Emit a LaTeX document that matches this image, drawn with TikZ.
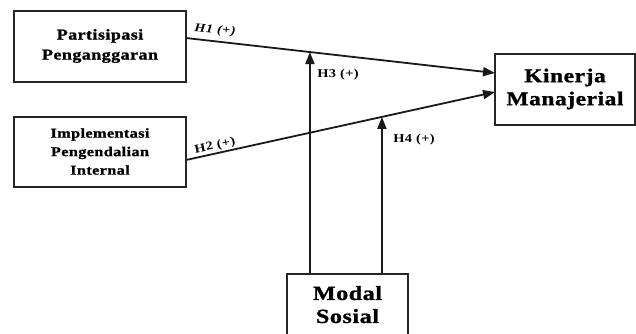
\documentclass[tikz,border=0pt]{standalone}
\usepackage{fontspec}
\setmainfont{Liberation Serif}[FakeStretch=1.2,LetterSpace=3]
\newfontfamily\heavy{Liberation Serif}[FakeStretch=1.2,LetterSpace=3,FakeBold=1.2]
\usetikzlibrary{arrows.meta}
\begin{document}
\begin{tikzpicture}[x=1pt,y=-1pt,
  box/.style={draw=black!85,line width=2pt,align=center,inner sep=0pt},
  arr/.style={line width=1.8pt,draw=black!90,-{Triangle[length=12pt,width=9pt]}},
  lbl/.style={font=\bfseries\fontsize{12}{13}\selectfont,inner sep=0pt}]
\useasboundingbox (0,0) rectangle (636,333);
\node[box,minimum width=172pt,minimum height=71pt,font=\heavy\bfseries\fontsize{15}{20}\selectfont] (pp) at (100,46) {Partisipasi\\Penganggaran};
\node[box,minimum width=172pt,minimum height=70pt,font=\heavy\bfseries\fontsize{13.5}{18.5}\selectfont] (ipi) at (100,151.5) {Implementasi\\Pengendalian\\Internal};
\node[box,minimum width=140pt,minimum height=71pt,font=\heavy\bfseries\fontsize{19.5}{23}\selectfont] (km) at (565,89) {Kinerja\\Manajerial};
\node[box,minimum width=121pt,minimum height=80pt,anchor=north,font=\heavy\bfseries\fontsize{20}{23}\selectfont] (ms) at (347.5,273) {Modal\\Sosial\\[-4pt]};
\coordinate (a1) at (186,38);
\coordinate (b1) at (495,73);
\coordinate (a2) at (186,160);
\coordinate (b2) at (495,92);
\draw[arr] (a1) -- (b1) coordinate[pos=0.401] (m1);
\draw[arr] (a2) -- (b2) coordinate[pos=0.634] (m2);
\coordinate (s1) at (ms.north -| m1);
\coordinate (s2) at (ms.north -| m2);
\draw[arr] (s1) -- (m1);
\draw[arr] (s2) -- (m2);
\node[lbl,font=\bfseries\itshape\fontsize{12}{13}\selectfont,rotate=-5] (h1) at (215,30) {H1 (+)};
\node[lbl,rotate=12] (h2) at (215,146) {H2 (+)};
\node[lbl] (h3) at (338,75) {H3 (+)};
\node[lbl] (h4) at (414,140) {H4 (+)};
\end{tikzpicture}
\end{document}
